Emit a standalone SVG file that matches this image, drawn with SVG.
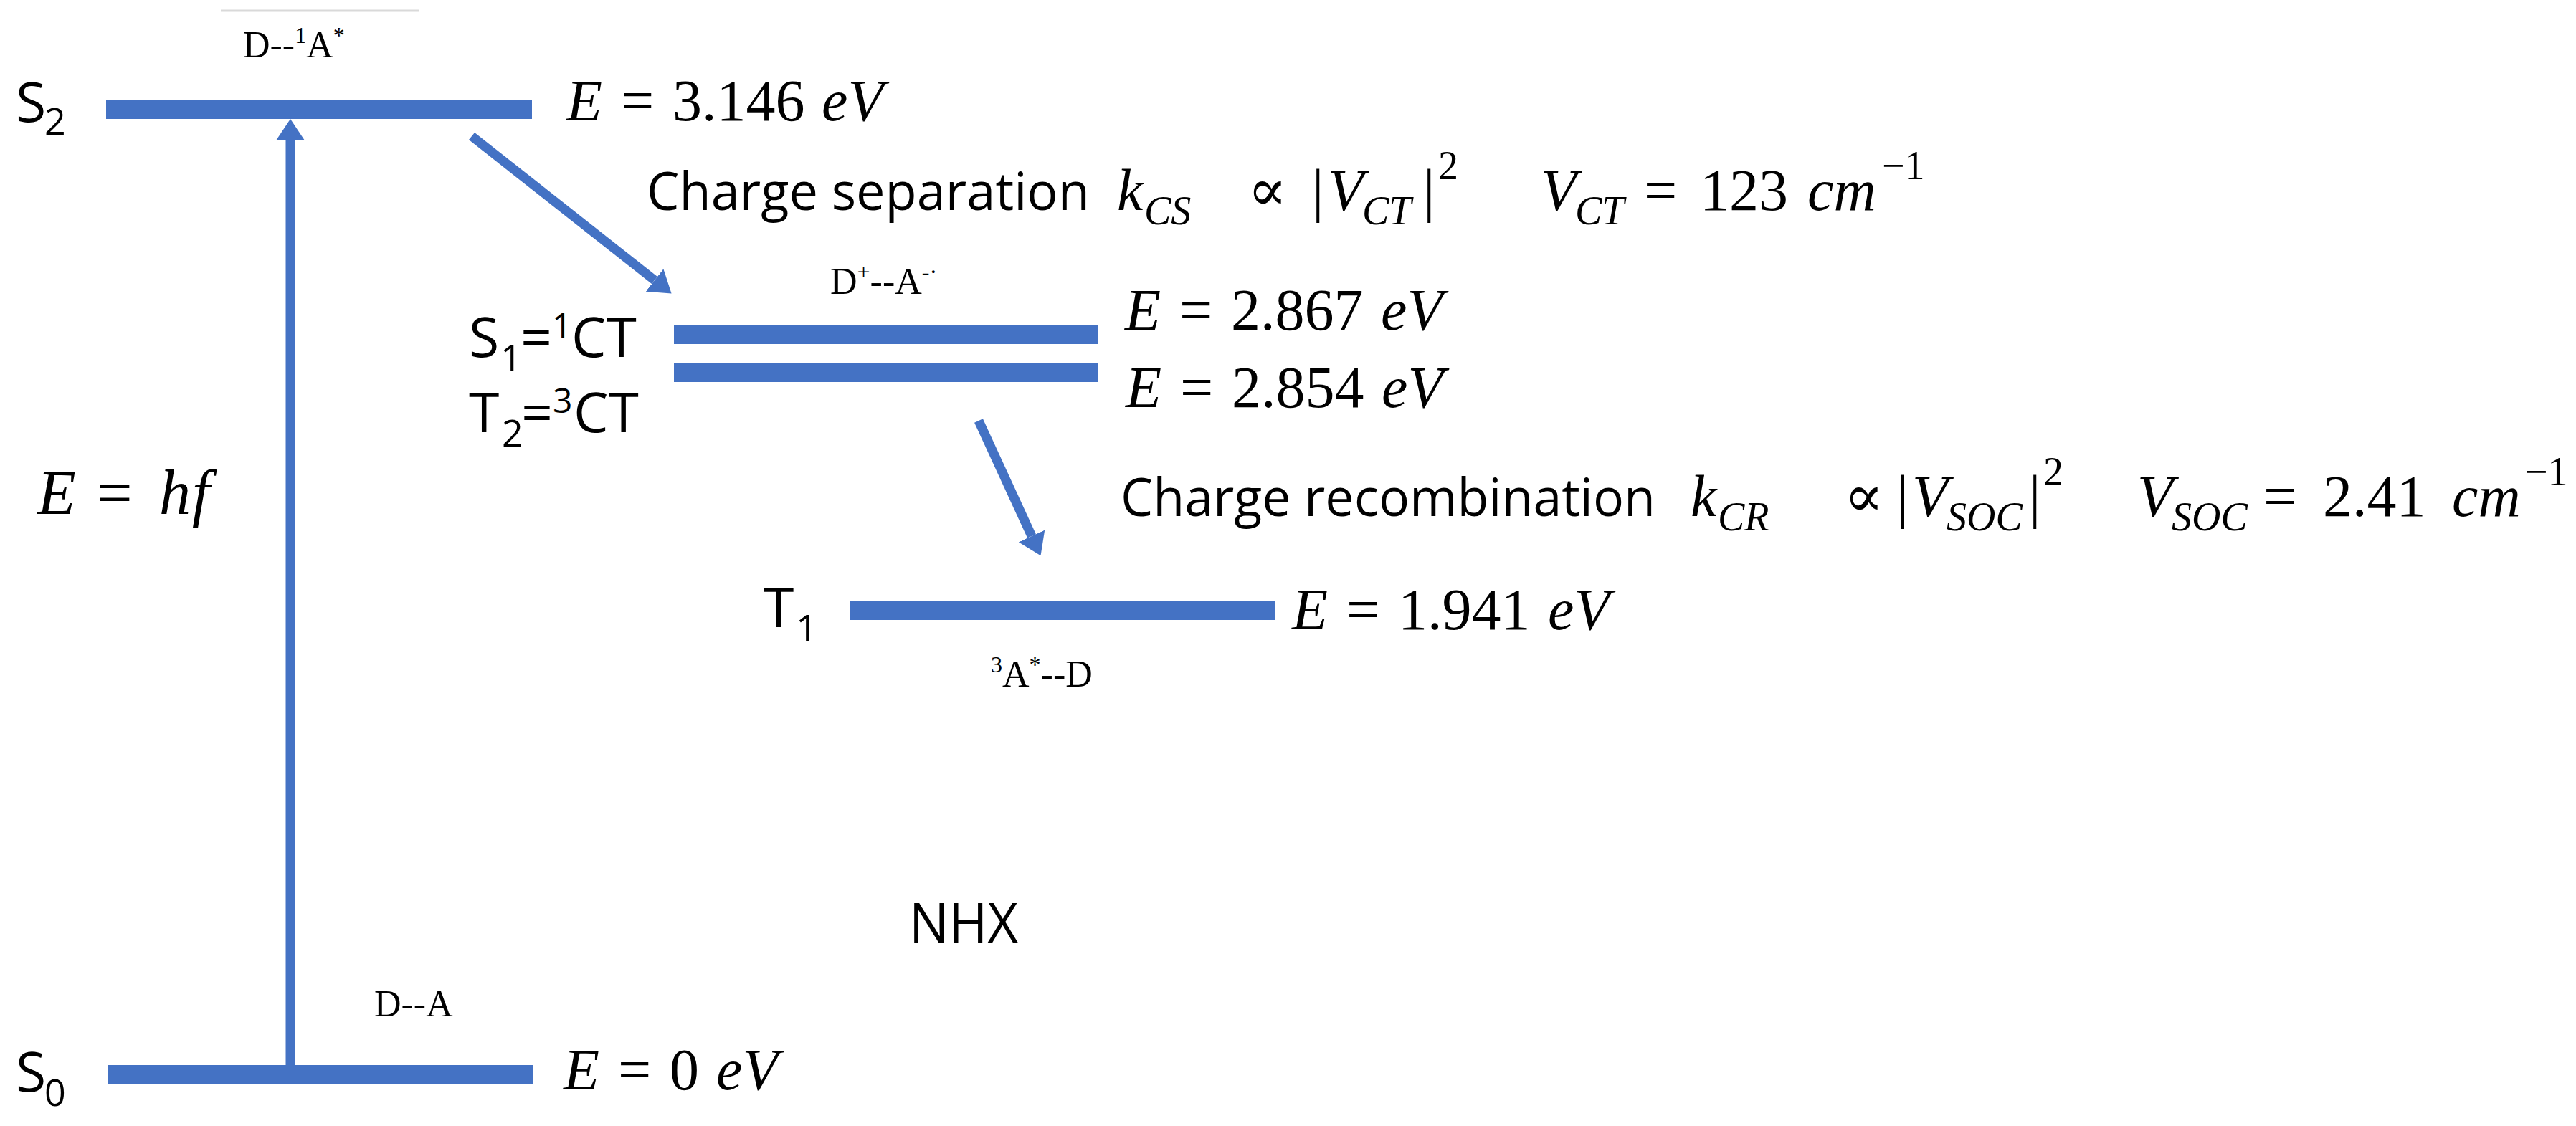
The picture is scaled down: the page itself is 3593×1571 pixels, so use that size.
<svg xmlns="http://www.w3.org/2000/svg" width="3593" height="1571" viewBox="0 0 3593 1571">
<style>
.bar{fill:#4472C4}
.sans{font-family:"Open Sans","Liberation Sans",sans-serif;font-size:77px;fill:#000}
.line{font-size:74px}
.sub{font-size:52px}
.sup{font-size:48px}
.serif{font-family:"Liberation Serif","Times New Roman",serif;font-size:52px;fill:#000}
.ssup{font-size:32px}
.math{font-family:"Liberation Serif","DejaVu Serif",serif;font-size:82px;fill:#000}
.it{font-style:italic}
.msub{font-size:56px}
.conn{stroke:#4472C4;stroke-width:13;fill:none;marker-end:url(#head)}
</style>
<defs>
<marker id="head" viewBox="0 -20 30 40" refX="0" refY="0" markerWidth="30" markerHeight="40" markerUnits="userSpaceOnUse" orient="auto"><path d="M0,-20 L30,0 L0,20 z" fill="#4472C4"/></marker>
</defs>
<rect x="0" y="0" width="3593" height="1571" fill="#fff"/>

<g id="connectors">
<line class="conn" x1="405" y1="1486" x2="405" y2="196"/>
<line class="conn" x1="658" y1="190" x2="913" y2="391"/>
<line class="conn" x1="1365" y1="587" x2="1439" y2="748"/>
</g>

<g id="level-S2">
<rect class="bar" x="148" y="139" width="594" height="27"/>
<text class="sans" x="22" y="170">S</text>
<text class="sans sub" x="62" y="188">2</text>
<line x1="308" y1="15" x2="585" y2="15" stroke="#d9d9d9" stroke-width="3"/>
<text class="serif" x="339" y="80">D--<tspan class="ssup" dy="-20">1</tspan><tspan dy="20">A</tspan><tspan class="ssup" dy="-20">*</tspan></text>
<text class="math" y="168"><tspan class="it" x="790">E</tspan><tspan x="866">=</tspan><tspan x="938">3.146</tspan><tspan class="it" x="1146">eV</tspan></text>
</g>

<g id="label-charge-separation">
<text class="sans line" x="902" y="293" textLength="618" lengthAdjust="spacingAndGlyphs">Charge separation</text>
<text class="math" y="293"><tspan class="it" x="1558">k</tspan><tspan class="it msub" x="1596" y="313">CS</tspan><tspan x="1740" y="293">∝</tspan><tspan x="1830">|</tspan><tspan class="it" x="1852">V</tspan><tspan class="it msub" x="1900" y="313">CT</tspan><tspan x="1985" y="293">|</tspan><tspan class="msub" x="2006" y="250">2</tspan><tspan class="it" x="2149" y="293">V</tspan><tspan class="it msub" x="2197" y="313">CT</tspan><tspan x="2293" y="293">=</tspan><tspan x="2371">123</tspan><tspan class="it" x="2521">cm</tspan><tspan class="msub" x="2625" y="250">−1</tspan></text>
</g>

<g id="level-S1-T2">
<rect class="bar" x="940" y="453" width="591" height="27"/>
<rect class="bar" x="940" y="506" width="591" height="27"/>
<text class="sans" x="654" y="498">S</text>
<text class="sans sub" x="698" y="518">1</text>
<text class="sans" x="726" y="498">=</text>
<text class="sans sup" x="770" y="471">1</text>
<text class="sans" x="797" y="498">CT</text>
<text class="sans" x="654" y="603">T</text>
<text class="sans sub" x="700" y="623">2</text>
<text class="sans" x="727" y="603">=</text>
<text class="sans sup" x="771" y="576">3</text>
<text class="sans" x="800" y="603">CT</text>
<text class="serif" x="1158" y="410">D<tspan class="ssup" dy="-20">+</tspan><tspan dy="20">--A</tspan><tspan class="ssup" dy="-20">-·</tspan></text>
<text class="math" y="460"><tspan class="it" x="1569">E</tspan><tspan x="1645">=</tspan><tspan x="1717">2.867</tspan><tspan class="it" x="1926">eV</tspan></text>
<text class="math" y="568"><tspan class="it" x="1570">E</tspan><tspan x="1646">=</tspan><tspan x="1718">2.854</tspan><tspan class="it" x="1927">eV</tspan></text>
</g>

<g id="label-charge-recombination">
<text class="sans line" x="1563" y="720" textLength="746" lengthAdjust="spacingAndGlyphs">Charge recombination</text>
<text class="math" y="720"><tspan class="it" x="2358">k</tspan><tspan class="it msub" x="2396" y="740">CR</tspan><tspan x="2572" y="720">∝</tspan><tspan x="2645">|</tspan><tspan class="it" x="2667">V</tspan><tspan class="it msub" x="2715" y="740">SOC</tspan><tspan x="2830" y="720">|</tspan><tspan class="msub" x="2850" y="677">2</tspan><tspan class="it" x="2981" y="720">V</tspan><tspan class="it msub" x="3029" y="740">SOC</tspan><tspan x="3157" y="720">=</tspan><tspan x="3240">2.41</tspan><tspan class="it" x="3420">cm</tspan><tspan class="msub" x="3522" y="677">−1</tspan></text>
</g>

<g id="level-T1">
<rect class="bar" x="1186" y="839" width="593" height="26"/>
<text class="sans" x="1065" y="875">T</text>
<text class="sans sub" x="1110" y="895">1</text>
<text class="math" y="878"><tspan class="it" x="1802">E</tspan><tspan x="1878">=</tspan><tspan x="1950">1.941</tspan><tspan class="it" x="2159">eV</tspan></text>
<text class="serif" x="1382" y="958"><tspan class="ssup" dy="-20">3</tspan><tspan dy="20">A</tspan><tspan class="ssup" dy="-20">*</tspan><tspan dy="20">--D</tspan></text>
</g>

<g id="level-S0">
<rect class="bar" x="150" y="1486" width="593" height="26"/>
<text class="sans" x="22" y="1523">S</text>
<text class="sans sub" x="62" y="1543">0</text>
<text class="serif" x="522" y="1418">D--A</text>
<text class="math" y="1520"><tspan class="it" x="786">E</tspan><tspan x="862">=</tspan><tspan x="934">0</tspan><tspan class="it" x="999">eV</tspan></text>
</g>

<g id="label-photon">
<text class="math" y="717" style="font-size:88px"><tspan class="it" x="52">E</tspan><tspan x="135">=</tspan><tspan class="it" x="222">h</tspan><tspan class="it" x="268">f</tspan></text>
</g>

<g id="label-NHX">
<text class="sans" x="1268" y="1315" textLength="152" lengthAdjust="spacingAndGlyphs">NHX</text>
</g>
</svg>
